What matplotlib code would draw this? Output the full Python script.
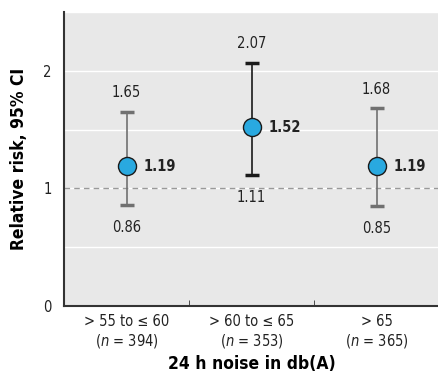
import matplotlib
matplotlib.use('Agg')
import matplotlib.pyplot as plt
from matplotlib.ticker import MultipleLocator

plt.rcParams['font.family'] = ['DejaVu Sans']
plt.rcParams['font.stretch'] = 'condensed'
plt.rcParams['mathtext.fontset'] = 'custom'
plt.rcParams['mathtext.rm'] = 'DejaVu Sans'
plt.rcParams['mathtext.it'] = 'DejaVu Sans:italic'

groups = ['> 55 to \u2264 60', '> 60 to \u2264 65', '> 65']
counts = [394, 353, 365]
rr = [1.19, 1.52, 1.19]
lower = [0.86, 1.11, 0.85]
upper = [1.65, 2.07, 1.68]
bar_colors = ['#707070', '#1a1a1a', '#707070']

fig = plt.figure(figsize=(4.39, 3.79), dpi=100)
ax = fig.add_axes([0.146, 0.193, 0.854, 0.775])
ax.set_facecolor('#e8e8e8')

ax.set_xlim(-0.5, 2.5)
ax.set_ylim(0, 2.5)
ax.yaxis.set_major_locator(MultipleLocator(1))
ax.yaxis.set_minor_locator(MultipleLocator(0.5))
ax.grid(True, which='both', axis='y', color='white', linewidth=1)
ax.set_axisbelow(True)
ax.axhline(1, color='#999999', linestyle=(0, (4, 3)), linewidth=1, zorder=1)

for i in range(len(groups)):
    ax.errorbar(i, rr[i], yerr=[[rr[i] - lower[i]], [upper[i] - rr[i]]],
                fmt='none', ecolor=bar_colors[i], elinewidth=1.2,
                capsize=5, capthick=2.5, zorder=2)
    ax.plot(i, rr[i], 'o', markersize=13, markerfacecolor='#29a9e0',
            markeredgecolor='#1a1a1a', markeredgewidth=1, zorder=3)
    ax.annotate('%.2f' % rr[i], (i, rr[i]), xytext=(12, 0),
                textcoords='offset points', ha='left', va='center',
                fontsize=10.5, fontweight='bold', color='#222222')
    ax.annotate('%.2f' % upper[i], (i, upper[i]), xytext=(0, 14),
                textcoords='offset points', ha='center', va='center',
                fontsize=10.5, color='#222222')
    ax.annotate('%.2f' % lower[i], (i, lower[i]), xytext=(0, -16),
                textcoords='offset points', ha='center', va='center',
                fontsize=10.5, color='#222222')

ax.set_xticks(range(len(groups)))
ax.set_xticklabels([g + '\n($\\it{n}$ = %d)' % c for g, c in zip(groups, counts)],
                   fontsize=10.5, color='#222222')
ax.set_xticks([0.5, 1.5], minor=True)
ax.tick_params(axis='x', which='major', length=0, pad=6)
ax.tick_params(axis='x', which='minor', direction='in', length=4, color='#333333')
ax.tick_params(axis='y', which='both', length=0, pad=9, labelsize=10.5, labelcolor='#222222')

for s in ['top', 'right']:
    ax.spines[s].set_visible(False)
for s in ['left', 'bottom']:
    ax.spines[s].set_color('#333333')
    ax.spines[s].set_linewidth(1.5)

ax.set_ylabel('Relative risk, 95% CI', fontsize=12.5, fontweight='bold', labelpad=11)
ax.set_xlabel('24 h noise in db(A)', fontsize=12.5, fontweight='bold', labelpad=4)

fig.savefig('out.png', dpi=100)
